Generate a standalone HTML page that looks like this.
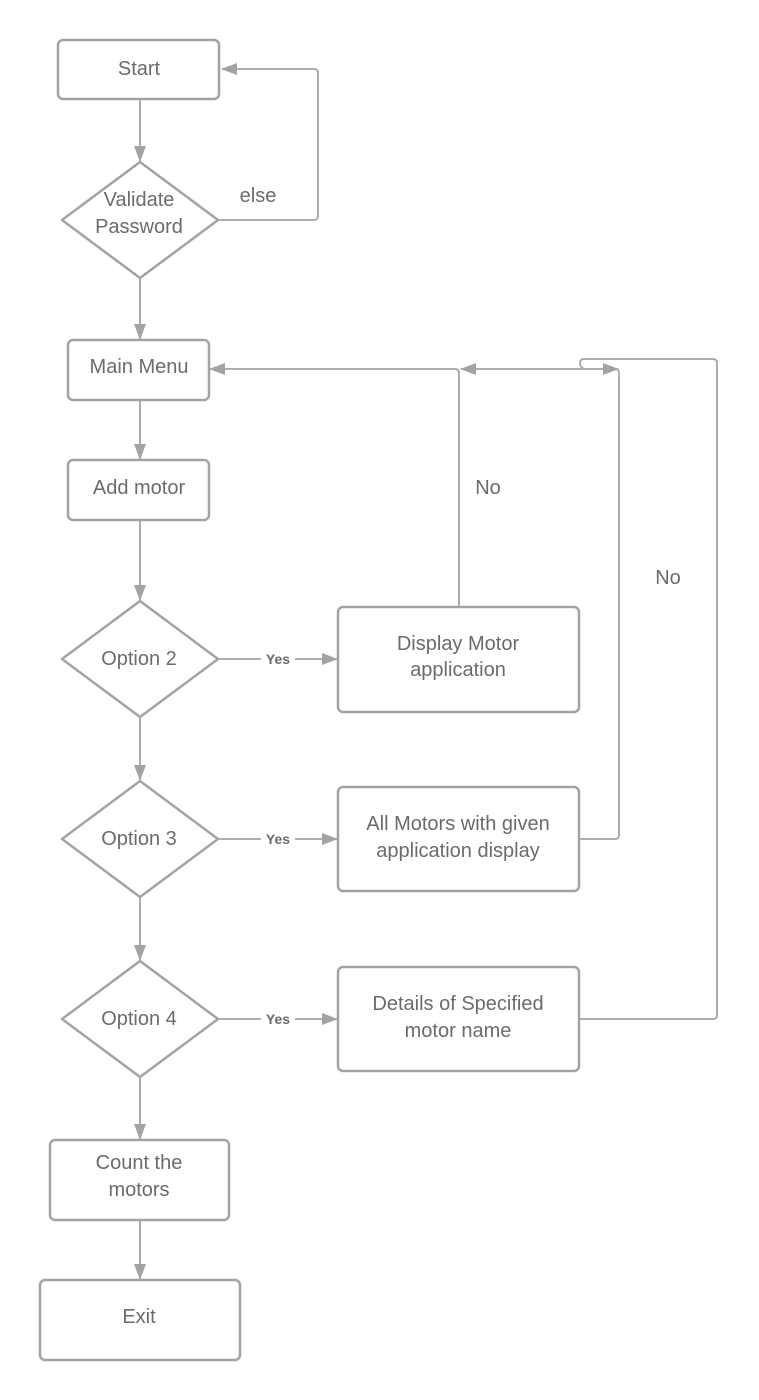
<!DOCTYPE html>
<html><head><style>body{margin:0;background:#fff}svg{display:block}text{font-family:"Liberation Sans",sans-serif;fill:#6b6b6b;font-size:20px;text-anchor:middle}.y{font-size:14px;font-weight:bold}</style></head><body>
<svg width="759" height="1400" viewBox="0 0 759 1400">
<defs><marker id="a" markerWidth="16" markerHeight="12" refX="15" refY="6" orient="auto" markerUnits="userSpaceOnUse"><path d="M0,0 L16,6 L0,12z" fill="#a3a3a3"/></marker>
<marker id="b" markerWidth="16" markerHeight="12" refX="1" refY="6" orient="auto" markerUnits="userSpaceOnUse"><path d="M16,0 L0,6 L16,12z" fill="#a3a3a3"/></marker></defs>
<g fill="none" stroke="#a3a3a3" stroke-width="2.5">
<rect x="58" y="40" width="161" height="59" rx="5"/>
<path d="M140,162 L218,220 L140,278 L62,220z" stroke-linejoin="round"/>
<rect x="68" y="340" width="141" height="60" rx="5"/>
<rect x="68" y="460" width="141" height="60" rx="5"/>
<path d="M140,601 L218,659 L140,717 L62,659z" stroke-linejoin="round"/>
<path d="M140,781 L218,839 L140,897 L62,839z" stroke-linejoin="round"/>
<path d="M140,961 L218,1019 L140,1077 L62,1019z" stroke-linejoin="round"/>
<rect x="338" y="607" width="241" height="105" rx="5"/>
<rect x="338" y="787" width="241" height="104" rx="5"/>
<rect x="338" y="967" width="241" height="104" rx="5"/>
<rect x="50" y="1140" width="179" height="80" rx="5"/>
<rect x="40" y="1280" width="200" height="80" rx="5"/>
</g>
<g fill="none" stroke="#a3a3a3" stroke-width="1.8">
<path d="M140,99 V161" marker-end="url(#a)"/>
<path d="M218,220 H314 Q318,220 318,216 V73 Q318,69 314,69 H222" marker-end="url(#a)"/>
<path d="M140,278 V339" marker-end="url(#a)"/>
<path d="M140,400 V459" marker-end="url(#a)"/>
<path d="M140,520 V600" marker-end="url(#a)"/>
<path d="M140,717 V780" marker-end="url(#a)"/>
<path d="M140,897 V960" marker-end="url(#a)"/>
<path d="M140,1077 V1139" marker-end="url(#a)"/>
<path d="M140,1220 V1279" marker-end="url(#a)"/>
<path d="M218,659 H337" marker-end="url(#a)"/>
<path d="M218,839 H337" marker-end="url(#a)"/>
<path d="M218,1019 H337" marker-end="url(#a)"/>
<path d="M459,607 V373 Q459,369 455,369 H210" marker-end="url(#a)"/>
<path d="M461,369 H618" marker-start="url(#b)" marker-end="url(#a)"/>
<path d="M579,839 H615 Q619,839 619,835 V373 Q619,369 615,369"/>
<path d="M579,1019 H713 Q717,1019 717,1015 V363 Q717,359 713,359 H584 Q580,359 580,363 Q580,367 584,369"/>
</g>
<g fill="#fff"><rect x="261" y="650" width="34" height="17"/><rect x="261" y="830" width="34" height="17"/><rect x="261" y="1010" width="34" height="17"/></g>
<text x="139" y="75">Start</text>
<text x="139" y="206">Validate</text><text x="139" y="233">Password</text>
<text x="258" y="202">else</text>
<text x="139" y="373">Main Menu</text>
<text x="139" y="494">Add motor</text>
<text x="139" y="665">Option 2</text>
<text x="139" y="845">Option 3</text>
<text x="139" y="1025">Option 4</text>
<text class="y" x="278" y="664">Yes</text>
<text class="y" x="278" y="844">Yes</text>
<text class="y" x="278" y="1024">Yes</text>
<text x="458" y="650">Display Motor</text><text x="458" y="676">application</text>
<text x="458" y="830">All Motors with given</text><text x="458" y="857">application display</text>
<text x="458" y="1010">Details of Specified</text><text x="458" y="1037">motor name</text>
<text x="139" y="1169">Count the</text><text x="139" y="1196">motors</text>
<text x="139" y="1323">Exit</text>
<text x="488" y="494">No</text>
<text x="668" y="584">No</text>
</svg>
</body></html>
